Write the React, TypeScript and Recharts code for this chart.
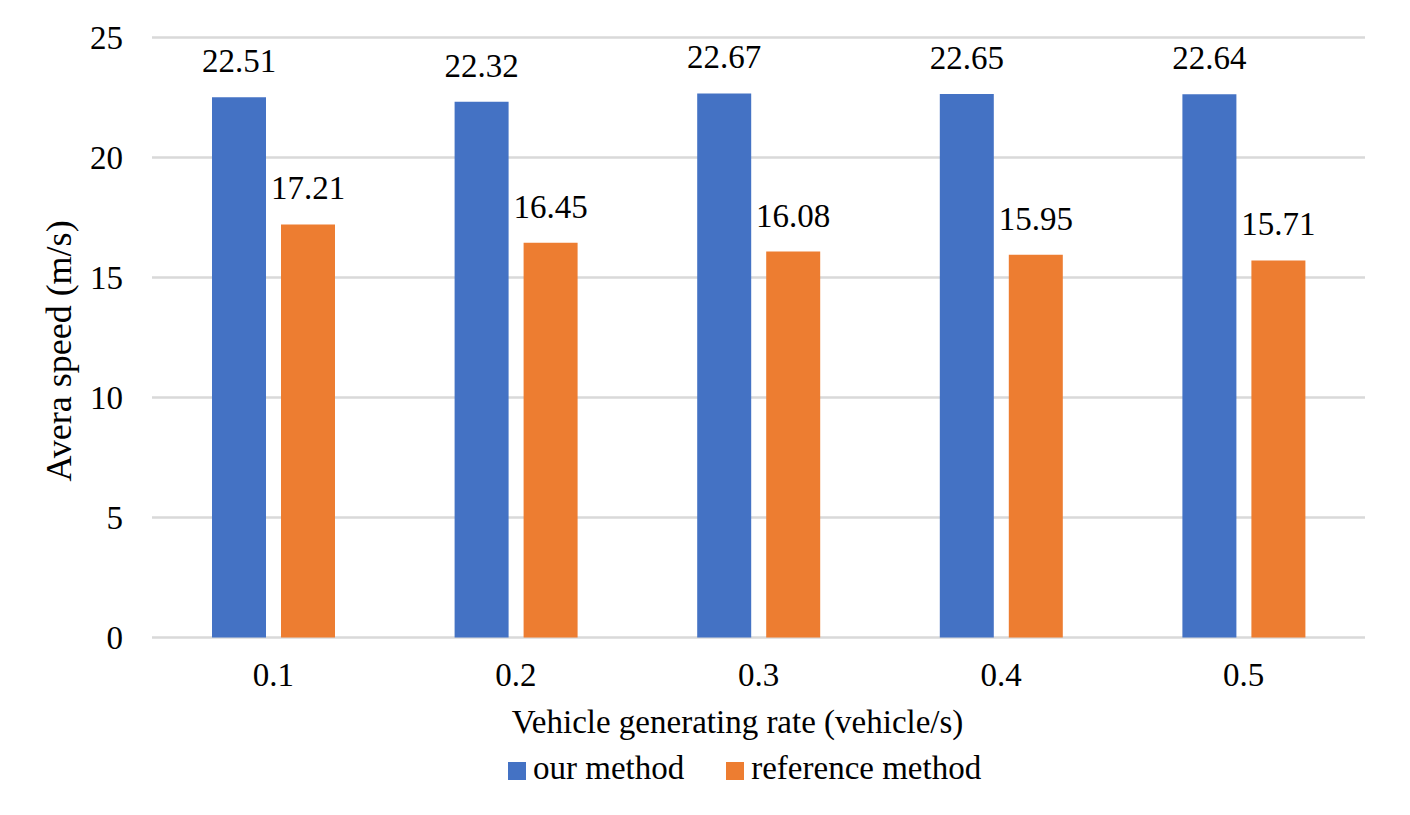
import * as React from "react";
import { BarChart, Bar, XAxis, YAxis, CartesianGrid, Legend, LabelList } from "recharts";

// ----- Data -----
const categories = ["0.1", "0.2", "0.3", "0.4", "0.5"];
const ourMethod = [22.51, 22.32, 22.67, 22.65, 22.64];
const referenceMethod = [17.21, 16.45, 16.08, 15.95, 15.71];
const yTicks = [0, 5, 10, 15, 20, 25];

const seriesInfo = [
  { key: "ourMethod", name: "our method", color: "#4472C4" },
  { key: "referenceMethod", name: "reference method", color: "#ED7D31" },
];

const chartData = categories.map((rate, i) => ({
  rate,
  ourMethod: ourMethod[i],
  referenceMethod: referenceMethod[i],
}));

const FONT = '"Liberation Serif", "Times New Roman", serif';

function renderLegend() {
  return (
    <div style={{ height: 40, display: "flex", alignItems: "flex-start", paddingLeft: 508, fontFamily: FONT }}>
      {seriesInfo.map((s, i) => (
        <div key={s.key} style={{ display: "flex", alignItems: "flex-start", marginRight: i === 0 ? 42 : 0 }}>
          <span style={{ width: 18, height: 18, background: s.color, marginTop: 13.5, marginRight: 7, display: "inline-block" }} />
          <span style={{ fontSize: 33, lineHeight: "40px", color: "#000", whiteSpace: "nowrap" }}>{s.name}</span>
        </div>
      ))}
    </div>
  );
}

function renderYTitle(props: any) {
  const vb = props.viewBox || { x: 0, y: 0, width: 0, height: 0 };
  const x = vb.x + 71;
  const y = vb.y + vb.height / 2 + 13.5;
  return (
    <text x={x} y={y} transform={`rotate(-90, ${x}, ${y})`} textAnchor="middle" fontSize={36} fontFamily={FONT} fill="#000">
      Avera speed (m/s)
    </text>
  );
}

export default function App() {
  return (
    <div style={{ position: "absolute", left: 0, top: 0 }}>
      <BarChart
        width={1410}
        height={815}
        data={chartData}
        margin={{ top: 37.5, right: 45, left: 0, bottom: 27 }}
        barSize={54}
        barGap={15}
        style={{ fontFamily: FONT }}
      >
        <CartesianGrid vertical={false} stroke="#d9d9d9" strokeWidth={2.5} />
        <XAxis
          dataKey="rate"
          axisLine={false}
          tickLine={false}
          tickSize={0}
          tickMargin={25}
          height={110.5}
          tick={{ fill: "#000", fontSize: 33, fontFamily: FONT }}
          label={{
            value: "Vehicle generating rate (vehicle/s)",
            position: "insideBottom",
            offset: 14.7,
            dx: -21,
            fill: "#000",
            fontSize: 33,
            fontFamily: FONT,
          }}
        />
        <YAxis
          width={152}
          domain={[0, 25]}
          ticks={yTicks}
          axisLine={false}
          tickLine={false}
          tickSize={0}
          tickMargin={29}
          tick={{ fill: "#000", fontSize: 33, fontFamily: FONT }}
          label={{ content: renderYTitle }}
        />
        <Legend verticalAlign="bottom" content={renderLegend} />
        {seriesInfo.map((s) => (
          <Bar key={s.key} dataKey={s.key} name={s.name} fill={s.color} isAnimationActive={false}>
            <LabelList dataKey={s.key} position="top" offset={25} fill="#000" fontSize={33} fontFamily={FONT} />
          </Bar>
        ))}
      </BarChart>
    </div>
  );
}
